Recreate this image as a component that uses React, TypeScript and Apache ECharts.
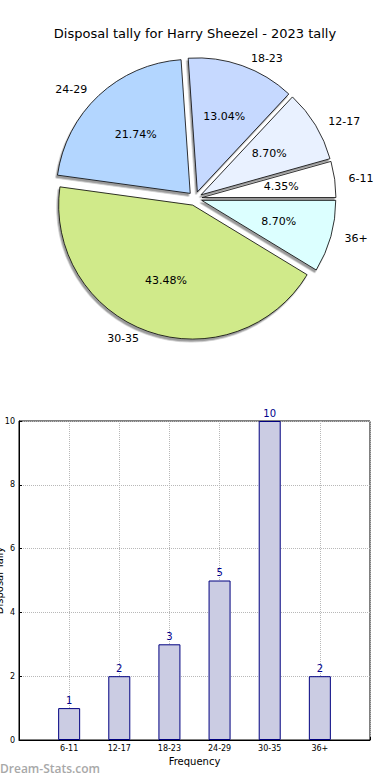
import React, { useEffect, useRef } from 'react';
import * as echarts from 'echarts';

const titleText = 'Disposal tally for Harry Sheezel - 2023 tally';
const categories = ['6-11', '12-17', '18-23', '24-29', '30-35', '36+'];
const counts = [1, 2, 3, 5, 10, 2];
const sliceColors = ['#ffffff', '#e9f1ff', '#c6d9ff', '#b3d6ff', '#d0ea8a', '#dcffff'];
const yMin = 0;
const yMax = 10;
const yInterval = 2;
const xAxisName = 'Frequency';
const yAxisName = 'Disposal Tally';
const watermark = 'Dream-Stats.com';

const FONT = 'DejaVu Sans';

export default function App() {
  const ref = useRef<HTMLDivElement>(null);
  useEffect(() => {
    if (!ref.current) return;
    const chart = echarts.init(ref.current, undefined, { renderer: 'svg' });
    const total = counts.reduce((a, b) => a + b, 0);
    const sliceStyle = {
      borderColor: '#000',
      borderWidth: 0.8,
      shadowBlur: 1,
      shadowColor: 'rgba(70,70,70,0.55)',
      shadowOffsetX: -1.5,
      shadowOffsetY: 2.5,
    };
    const pieData = categories.map((name, i) => ({
      name,
      value: counts[i],
      selected: true,
      itemStyle: { color: sliceColors[i] },
    }));
    const labelPieData = categories.map((name, i) => ({
      name,
      value: counts[i],
      selected: true,
    }));
    const xCats = ['', ...categories, ''];
    const barData = [null, ...counts, null];
    chart.setOption({
      animation: false,
      textStyle: { fontFamily: FONT },
      title: {
        text: titleText,
        left: 'center',
        top: 22,
        textStyle: { fontSize: 13, fontWeight: 'normal', fontFamily: FONT, color: '#000' },
      },
      grid: {
        left: 19,
        right: 20,
        top: 421,
        bottom: 40,
        outerBoundsMode: 'none',
        containLabel: false,
        show: true,
        borderColor: '#000',
        borderWidth: 1,
        backgroundColor: 'transparent',
      },
      xAxis: {
        type: 'category',
        data: xCats,
        boundaryGap: false,
        name: xAxisName,
        nameLocation: 'middle',
        nameGap: 16,
        nameMoveOverlap: false,
        nameTextStyle: { fontSize: 10, color: '#000', fontFamily: FONT },
        axisLine: { lineStyle: { color: '#000', width: 1 } },
        axisTick: { show: true, inside: true, length: 3, interval: 0, lineStyle: { color: '#000' } },
        axisLabel: { fontSize: 8, color: '#000', margin: 4, interval: 0, fontFamily: FONT },
        splitLine: { show: true, interval: 0, lineStyle: { color: '#b8b8b8', type: 'dotted', width: 1 } },
      },
      yAxis: {
        type: 'value',
        min: yMin,
        max: yMax,
        interval: yInterval,
        name: yAxisName,
        nameLocation: 'middle',
        nameRotate: 90,
        nameGap: 15,
        nameMoveOverlap: false,
        nameTextStyle: { fontSize: 10, color: '#000', fontFamily: FONT },
        axisLine: { show: true, lineStyle: { color: '#000', width: 1 } },
        axisTick: { show: true, inside: true, length: 3, lineStyle: { color: '#000' } },
        axisLabel: { fontSize: 8, color: '#000', margin: 4, fontFamily: FONT },
        splitLine: { show: true, lineStyle: { color: '#b8b8b8', type: 'dotted', width: 1 } },
      },
      graphic: [
        {
          type: 'text',
          left: 0,
          top: 762,
          style: { text: watermark, fontSize: 12, fontWeight: 600, fill: '#a8a8a8', fontFamily: 'Open Sans' },
        },
      ],
      series: [
        {
          type: 'pie',
          center: [195, 198.5],
          radius: 134,
          startAngle: 0,
          clockwise: false,
          selectedMode: 'multiple',
          selectedOffset: 7,
          avoidLabelOverlap: false,
          data: pieData,
          itemStyle: sliceStyle,
          select: { itemStyle: sliceStyle, label: { color: '#000' } },
          emphasis: { disabled: true },
          label: {
            show: true,
            position: 'outside',
            formatter: '{b}',
            fontSize: 11,
            color: '#000',
            fontFamily: FONT,
            distanceToLabelLine: 6,
          },
          labelLine: { show: false, length: 8, length2: 0 },
        },
        {
          type: 'pie',
          center: [195, 198.5],
          radius: 154,
          startAngle: 0,
          clockwise: false,
          selectedMode: 'multiple',
          selectedOffset: 7,
          avoidLabelOverlap: false,
          silent: true,
          z: 5,
          data: labelPieData,
          itemStyle: { color: 'transparent', borderWidth: 0 },
          select: { itemStyle: { color: 'transparent', borderWidth: 0 } },
          emphasis: { disabled: true },
          label: {
            show: true,
            position: 'inside',
            formatter: (p: any) => ((p.value / total) * 100).toFixed(2) + '%',
            fontSize: 11,
            color: '#000',
            fontFamily: FONT,
          },
          labelLine: { show: false },
        },
        {
          type: 'bar',
          data: barData,
          barWidth: 22,
          itemStyle: { color: '#cbcce3', borderColor: '#000080', borderWidth: 1 },
          emphasis: { disabled: true },
          label: {
            show: true,
            position: 'top',
            distance: 3,
            fontSize: 10,
            color: '#00008b',
            fontFamily: FONT,
          },
        },
      ],
    });
    return () => chart.dispose();
  }, []);
  return (
    <div
      ref={ref}
      style={{ position: 'fixed', left: 0, top: 0, width: 390, height: 780, background: '#fff' }}
    />
  );
}
